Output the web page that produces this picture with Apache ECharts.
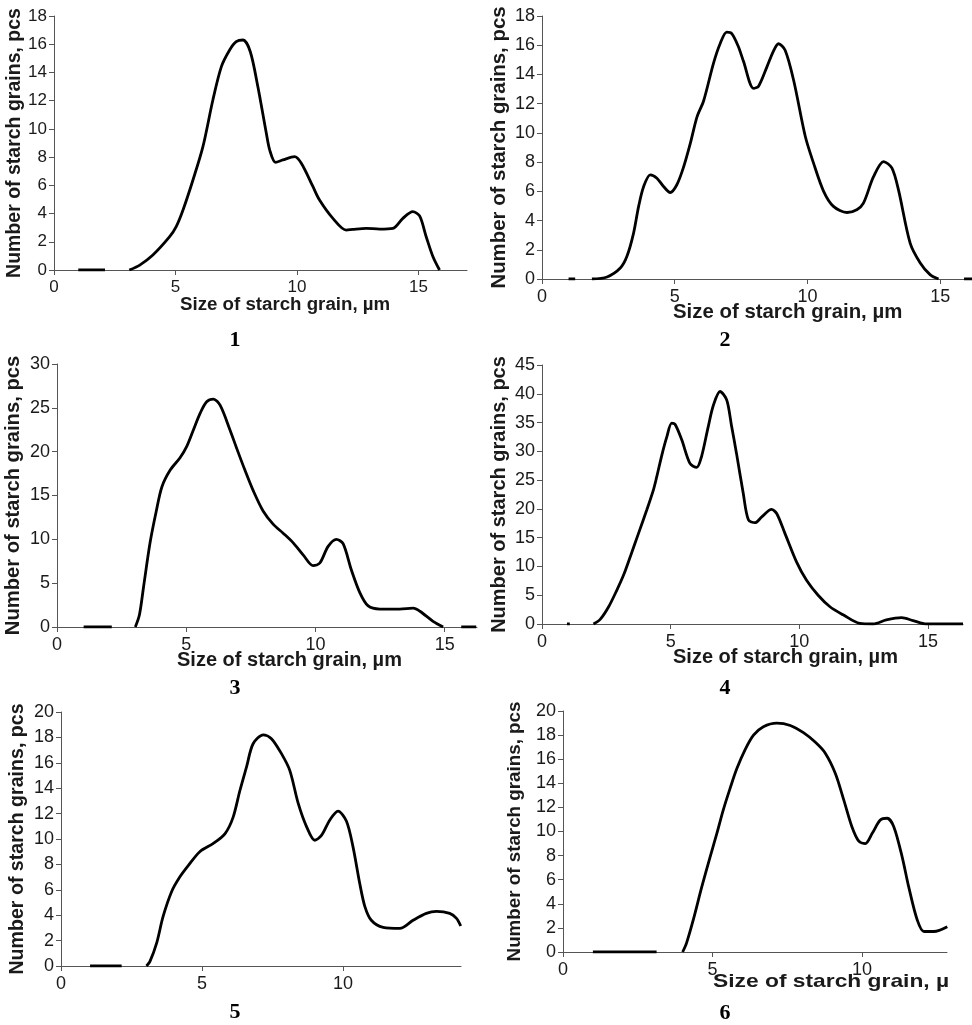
<!DOCTYPE html>
<html>
<head>
<meta charset="utf-8">
<style>
  html, body { margin: 0; padding: 0; background: #fff; }
  #chart { width: 972px; height: 1025px; }
</style>
</head>
<body>
<div id="chart"></div>
<script src="https://cdn.jsdelivr.net/npm/echarts@6.0.0/dist/echarts.min.js"></script>
<script>
(function () {
  var myChart = echarts.init(document.getElementById('chart'));

  // size of starch grain (um) and number of grains, one pair per panel; null = gap in the line
  var size1 = [1.0, 2.1, 2.6, 3.1, 3.53, 4.07, 4.76, 5.03, 5.31, 5.72, 6.13, 6.54, 6.89, 7.23, 7.5, 7.78, 8.08, 8.39, 8.74, 8.88, 9.12, 9.42, 9.9, 10.18, 10.66, 10.93, 11.48, 12.03, 12.3, 12.85, 13.4, 13.95, 14.36, 14.77, 15.05, 15.32, 15.6, 15.87];
  var count1 = [0, 0, null, 0, 0.35, 1.06, 2.36, 3.07, 4.25, 6.38, 8.74, 12.05, 14.41, 15.59, 16.18, 16.3, 15.47, 13.0, 9.69, 8.5, 7.63, 7.8, 8.03, 7.56, 5.9, 4.96, 3.66, 2.83, 2.88, 2.95, 2.9, 2.95, 3.66, 4.13, 3.83, 2.36, 0.94, 0];

  var size2 = [1.0, 1.25, 1.5, 1.88, 2.45, 2.95, 3.2, 3.45, 3.64, 3.83, 4.08, 4.33, 4.58, 4.83, 5.08, 5.34, 5.59, 5.84, 6.09, 6.46, 6.71, 6.96, 7.15, 7.4, 7.59, 7.97, 8.16, 8.47, 8.72, 8.91, 9.16, 9.48, 9.92, 10.23, 10.61, 10.98, 11.49, 11.86, 12.11, 12.49, 12.87, 13.18, 13.43, 13.87, 14.25, 14.62, 14.94, 15.4, 15.9, 16.2];
  var count2 = [0, 0, null, 0, 0.14, 0.75, 1.55, 3.14, 4.97, 6.33, 7.13, 6.9, 6.33, 5.92, 6.45, 7.7, 9.3, 11.1, 12.2, 14.76, 16.1, 16.9, 16.8, 15.9, 14.9, 13.05, 13.2, 14.5, 15.6, 16.1, 15.65, 13.6, 9.75, 7.93, 6.0, 4.97, 4.55, 4.74, 5.19, 7.0, 8.04, 7.6, 6.1, 2.46, 1.1, 0.3, 0, null, 0, 0];

  var size3 = [1.03, 2.12, 2.6, 3.03, 3.19, 3.35, 3.6, 3.84, 4.06, 4.38, 4.76, 5.02, 5.28, 5.54, 5.79, 6.05, 6.31, 6.69, 6.95, 7.27, 7.6, 7.98, 8.37, 8.75, 9.14, 9.53, 9.91, 10.17, 10.49, 10.81, 11.07, 11.39, 11.72, 12.04, 12.49, 13.26, 13.78, 14.04, 14.55, 14.94, 15.3, 15.64, 16.22];
  var count3 = [0, 0, null, 0, 1.4, 4.6, 9.6, 13.2, 16.0, 17.9, 19.3, 20.6, 22.5, 24.4, 25.7, 26.0, 25.3, 22.5, 20.4, 17.9, 15.5, 13.2, 11.7, 10.7, 9.6, 8.2, 7.0, 7.3, 9.2, 10.0, 9.5, 6.5, 3.9, 2.4, 2.05, 2.05, 2.15, 1.8, 0.65, 0, null, 0, 0];

  var size4 = [0.97, 1.08, 1.5, 2.0, 2.26, 2.59, 2.91, 3.17, 3.43, 3.75, 4.07, 4.33, 4.46, 4.66, 4.85, 5.04, 5.17, 5.43, 5.75, 6.01, 6.2, 6.46, 6.66, 6.92, 7.18, 7.37, 7.56, 7.82, 8.02, 8.28, 8.54, 8.92, 9.12, 9.44, 9.89, 10.28, 10.73, 11.19, 11.7, 12.35, 12.87, 13.38, 13.97, 14.42, 14.94, 16.36];
  var count4 = [0, 0, null, 0, 0.8, 3.0, 5.9, 8.5, 11.7, 15.75, 19.8, 23.3, 25.6, 29.4, 32.5, 34.9, 34.7, 32.0, 27.9, 27.2, 29.1, 34.3, 38.0, 40.4, 38.9, 34.3, 29.6, 22.7, 18.1, 17.6, 18.6, 19.9, 19.2, 15.75, 10.8, 7.6, 5.0, 3.0, 1.6, 0.1, 0, 0.7, 1.1, 0.6, 0, 0];

  var size5 = [1.03, 2.15, 2.6, 3.03, 3.15, 3.39, 3.62, 3.92, 4.21, 4.51, 4.92, 5.4, 5.81, 6.1, 6.34, 6.58, 6.81, 7.17, 7.46, 7.82, 8.11, 8.41, 8.7, 9.0, 9.24, 9.53, 9.82, 10.12, 10.35, 10.59, 10.77, 11.0, 11.42, 12.01, 12.48, 12.95, 13.31, 13.78, 14.02, 14.17];
  var count5 = [0, 0, null, 0, 0.34, 1.8, 3.9, 5.85, 7.0, 7.9, 9.0, 9.65, 10.4, 11.7, 13.8, 15.7, 17.5, 18.2, 17.9, 16.7, 15.4, 12.8, 11.0, 9.9, 10.3, 11.5, 12.2, 11.4, 9.4, 6.5, 4.7, 3.6, 3.04, 2.96, 3.6, 4.14, 4.3, 4.14, 3.75, 3.15];

  var size6 = [1.0, 3.13, 3.5, 4.0, 4.13, 4.36, 4.64, 4.92, 5.14, 5.36, 5.59, 5.81, 6.09, 6.37, 6.7, 7.15, 7.6, 8.04, 8.44, 8.77, 9.11, 9.39, 9.66, 9.89, 10.11, 10.34, 10.61, 10.84, 11.06, 11.34, 11.56, 11.84, 12.07, 12.4, 12.85];
  var count6 = [0, 0, null, 0, 0.74, 2.7, 5.4, 7.9, 9.8, 11.8, 13.6, 15.2, 16.8, 18.0, 18.7, 19.0, 18.8, 18.2, 17.4, 16.5, 14.8, 12.6, 10.4, 9.2, 9.0, 9.85, 10.95, 11.1, 10.4, 7.9, 5.4, 2.7, 1.7, 1.7, 2.1];

  // axis ranges and tick labels
  var xMax = [17, 16.2, 16.25, 16.36, 14.18, 12.84];
  var yMax = [18, 18, 30, 45, 20, 20];
  var yStep = [2, 2, 5, 5, 2, 2];
  var xTicks = [[0, 5, 10, 15], [0, 5, 10, 15], [0, 5, 10, 15], [0, 5, 10, 15], [0, 5, 10], [0, 5, 10]];
  var panelLabels = ['1', '2', '3', '4', '5', '6'];
  var yName = 'Number of starch grains, pcs';
  var xNames = ['Size of starch grain, \u00b5m', 'Size of starch grain, \u00b5m', 'Size of starch grain, \u00b5m',
    'Size of starch grain, \u00b5m', '', 'Size of starch grain, \u00b5'];

  var sizes = [size1, size2, size3, size4, size5, size6];
  var counts = [count1, count2, count3, count4, count5, count6];

  // layout of each panel (pixels)
  var boxes = [
    { left: 54, top: 16, width: 413, height: 254, gap: 28, fs: 19.5, xfs: 18.7, tfs: 17 },
    { left: 542, top: 16, width: 430, height: 263, gap: 33, fs: 20.4, xfs: 20.4, tfs: 18 },
    { left: 57, top: 364, width: 420, height: 263, gap: 34, fs: 20.2, xfs: 20, tfs: 18 },
    { left: 542, top: 365, width: 421, height: 259, gap: 33, fs: 20, xfs: 20, tfs: 18 },
    { left: 61, top: 712, width: 400, height: 254, gap: 33, fs: 19.6, xfs: 19.6, tfs: 18 },
    { left: 563, top: 711, width: 384, height: 241, gap: 39, fs: 18.8, xfs: 19, tfs: 18 }
  ];
  var xNamePos = [[180, 305], [673, 312], [177, 660], [673, 657], [0, 0], [713, 982]];
  var xNameStretch = [1, 1, 1, 1, 1, 1.2];
  var numPos = [[235, 340], [725, 340], [235, 688], [725, 688], [235, 1012], [725, 1013]];

  var font = '"Liberation Sans", Arial, sans-serif';
  var grid = [], xAxis = [], yAxis = [], series = [], graphic = [];

  boxes.forEach(function (b, i) {
    grid.push({ left: b.left, top: b.top, width: b.width, height: b.height });
    xAxis.push({
      type: 'value', gridIndex: i, min: 0, max: xMax[i],
      splitLine: { show: false },
      axisLine: { onZero: false, lineStyle: { color: '#555', width: 1 } },
      axisTick: { show: true, length: 5, customValues: xTicks[i], lineStyle: { color: '#555' } },
      axisLabel: { customValues: xTicks[i], color: '#1a1a1a', fontSize: b.tfs, fontFamily: font, margin: 9 }
    });
    yAxis.push({
      type: 'value', gridIndex: i, min: 0, max: yMax[i], interval: yStep[i],
      splitLine: { show: false },
      axisLine: { show: true, lineStyle: { color: '#555', width: 1 } },
      axisTick: { show: true, length: 5, lineStyle: { color: '#555' } },
      axisLabel: { color: '#1a1a1a', fontSize: b.tfs, fontFamily: font, margin: 7 },
      name: yName, nameLocation: 'middle', nameRotate: 90, nameGap: b.gap,
      nameTextStyle: { color: '#1a1a1a', fontSize: b.fs, fontWeight: 'bold', fontFamily: font }
    });
    series.push({
      type: 'line', xAxisIndex: i, yAxisIndex: i,
      data: sizes[i].map(function (x, k) { return [x, counts[i][k] === null ? '-' : counts[i][k]]; }),
      smooth: 0.3, showSymbol: false, connectNulls: false, clip: true,
      lineStyle: { color: '#000', width: 2.8 },
      silent: true
    });
    if (xNames[i]) {
      graphic.push({
        type: 'text', x: xNamePos[i][0], y: xNamePos[i][1], scaleX: xNameStretch[i],
        style: { text: xNames[i], fill: '#1a1a1a', font: 'bold ' + b.xfs + 'px ' + font, verticalAlign: 'middle' }
      });
    }
    graphic.push({
      type: 'text', x: numPos[i][0], y: numPos[i][1],
      style: { text: panelLabels[i], fill: '#000', font: 'bold 22px "Liberation Serif", "Times New Roman", serif', align: 'center', verticalAlign: 'middle' }
    });
  });

  var option = {
    backgroundColor: '#fff',
    animation: false,
    grid: grid,
    xAxis: xAxis,
    yAxis: yAxis,
    series: series,
    graphic: graphic
  };
  myChart.setOption(option);
  window.addEventListener('resize', function () {
    myChart.resize();
  });
})();
</script>
</body>
</html>
